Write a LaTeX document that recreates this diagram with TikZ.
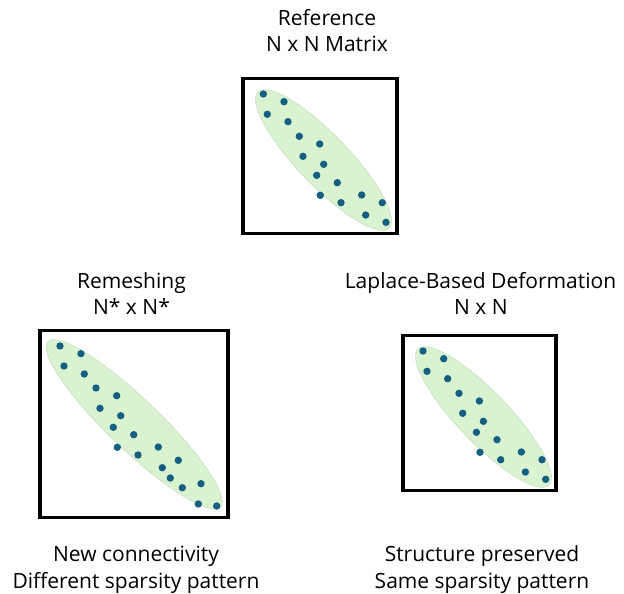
\documentclass[tikz,border=0pt]{standalone}
\usepackage{fontspec}
\setmainfont{Open Sans}
\definecolor{dotblue}{HTML}{156082}
\definecolor{ellgreen}{HTML}{D9F2D0}
\begin{document}
\begin{tikzpicture}[x=1pt,y=-1pt,
  dot/.style={circle,fill=dotblue,inner sep=0pt,minimum size=7.4pt},
  matbox/.style={draw=black,line width=3.5pt,inner sep=0pt},
  lbl/.style={inner sep=0pt,font=\fontsize{21}{26}\selectfont},
  band/.style={fill=ellgreen,draw=ellgreen!85!black,line width=0.3pt}]
\useasboundingbox (0,0) rectangle (624,594);
% boxes
\node[matbox,minimum width=154pt,minimum height=155pt] (refbox) at (320,156) {};
\node[matbox,minimum width=188pt,minimum height=187pt] (rembox) at (134.2,424.1) {};
\node[matbox,minimum width=153pt,minimum height=155pt] (lapbox) at (479.3,412.8) {};
% bands
\fill[band,rotate around={-46.1:(323.5,160)}] (323.5,160) ellipse [x radius=94.5pt, y radius=25.5pt];
\fill[band,rotate around={-43.8:(134.2,424.3)}] (134.2,424.3) ellipse [x radius=119.5pt, y radius=25.5pt];
\fill[band,rotate around={-46.1:(483.5,417)}] (483.5,417) ellipse [x radius=94.5pt, y radius=25.5pt];
% dots: reference
\foreach \i/\x/\y in {1/263.3/94,2/284/101.7,3/267.3/114.3,4/288/121.7,5/299.3/136.3,6/319.7/144,7/303/156.3,8/323.7/164.3,9/316.7/175.3,10/337.3/182.7,11/320.3/195.3,12/361.7/195,13/341/202.7,14/382.3/202.7,15/365.7/215,16/386/222.3}
  \node[dot] (r\i) at (\x,\y) {};
% dots: laplace (same pattern shifted)
\foreach \i/\x/\y in {1/263.3/94,2/284/101.7,3/267.3/114.3,4/288/121.7,5/299.3/136.3,6/319.7/144,7/303/156.3,8/323.7/164.3,9/316.7/175.3,10/337.3/182.7,11/320.3/195.3,12/361.7/195,13/341/202.7,14/382.3/202.7,15/365.7/215,16/386/222.3}
  \node[dot] (l\i) at (\x+159.7,\y+257) {};
% dots: remeshing
\foreach \i/\x/\y in {1/60/346,2/81/353.7,3/64/366,4/84.3/374,5/96/388,6/116.7/395.7,7/100/408.3,8/120.7/415.7,9/113.3/427.3,10/133.7/434.7,11/117.3/447.3,12/158.3/447,13/138/455,14/178.3/460.3,15/162.3/467.7,16/170.3/478,17/201/483.7,18/182.3/487.7,19/198.3/504,20/216.7/506}
  \node[dot] (m\i) at (\x,\y) {};
% labels
\node[lbl,anchor=base] (t1) at (327,25.7) {Reference};
\node[lbl,anchor=base] (t2) at (327,51.7) {N x N Matrix};
\node[lbl,anchor=base] (t3) at (131.5,288.3) {Remeshing};
\node[lbl,anchor=base] (t4) at (131.5,314.3) {N* x N*};
\node[lbl,anchor=base] (t5) at (480.5,288.3) {Laplace-Based Deformation};
\node[lbl,anchor=base] (t6) at (481,314.3) {N x N};
\node[lbl,anchor=base] (b1) at (136,561.7) {New connectivity};
\node[lbl,anchor=base] (b2) at (136,588.3) {Different sparsity pattern};
\node[lbl,anchor=base] (b3) at (482,561.7) {Structure preserved};
\node[lbl,anchor=base] (b4) at (482,588.3) {Same sparsity pattern};
\end{tikzpicture}
\end{document}
